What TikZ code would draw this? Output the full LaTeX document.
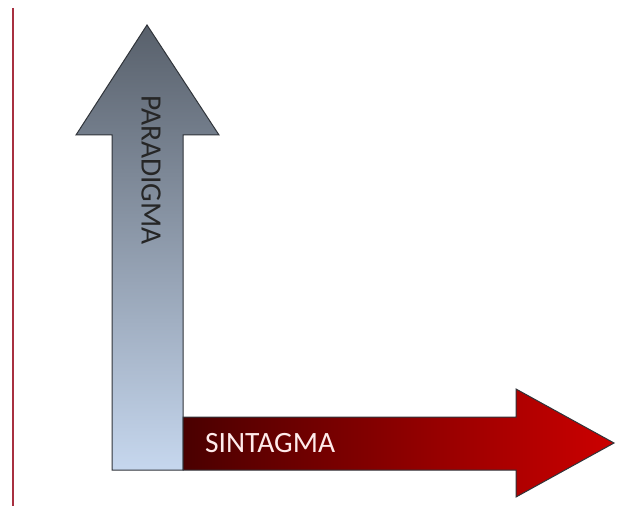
\documentclass[tikz,border=0pt]{standalone}
\usepackage{fontspec}
\setmainfont{Carlito}
\definecolor{grigiosc}{HTML}{58606B}
\definecolor{azzurro}{HTML}{C6D7EE}
\definecolor{bordeaux}{HTML}{4A0000}
\definecolor{rossomed}{HTML}{A80000}
\definecolor{rosso}{HTML}{CC0000}
\definecolor{lineabordo}{HTML}{30343A}
\definecolor{margine}{HTML}{A83040}
\tikzset{
  freccia/.style={draw=lineabordo, line width=1pt, line join=miter},
  etichetta/.style={inner sep=0pt, font=\fontsize{29.5}{29.5}\selectfont}
}
\begin{document}
\begin{tikzpicture}[x=1pt,y=1pt]

    \useasboundingbox (0,0) rectangle (617,506);

    % Linea del margine
    \draw[margine, line width=1.2pt] (13,498) -- (13,0);

    % Freccia verticale
    \draw[freccia, top color=grigiosc, bottom color=azzurro]
      (112,36) -- (112,371) -- (76,371) -- (147,481)
      -- (219,371) -- (183,371) -- (183,36) -- cycle;

    % Freccia orizzontale
    \draw[freccia, left color=bordeaux, middle color=rossomed, right color=rosso]
      (183,89) -- (516,89) -- (516,117) -- (614,63)
      -- (516,9) -- (516,36) -- (183,36) -- cycle;

    % Etichette
    \node[etichetta, rotate=-90, text=black!85] (paradigma) at (151,336) {PARADIGMA};
    \node[etichetta, anchor=west, text=white!92!red] (sintagma) at (205,62.5) {SINTAGMA};

\end{tikzpicture}
\end{document}
